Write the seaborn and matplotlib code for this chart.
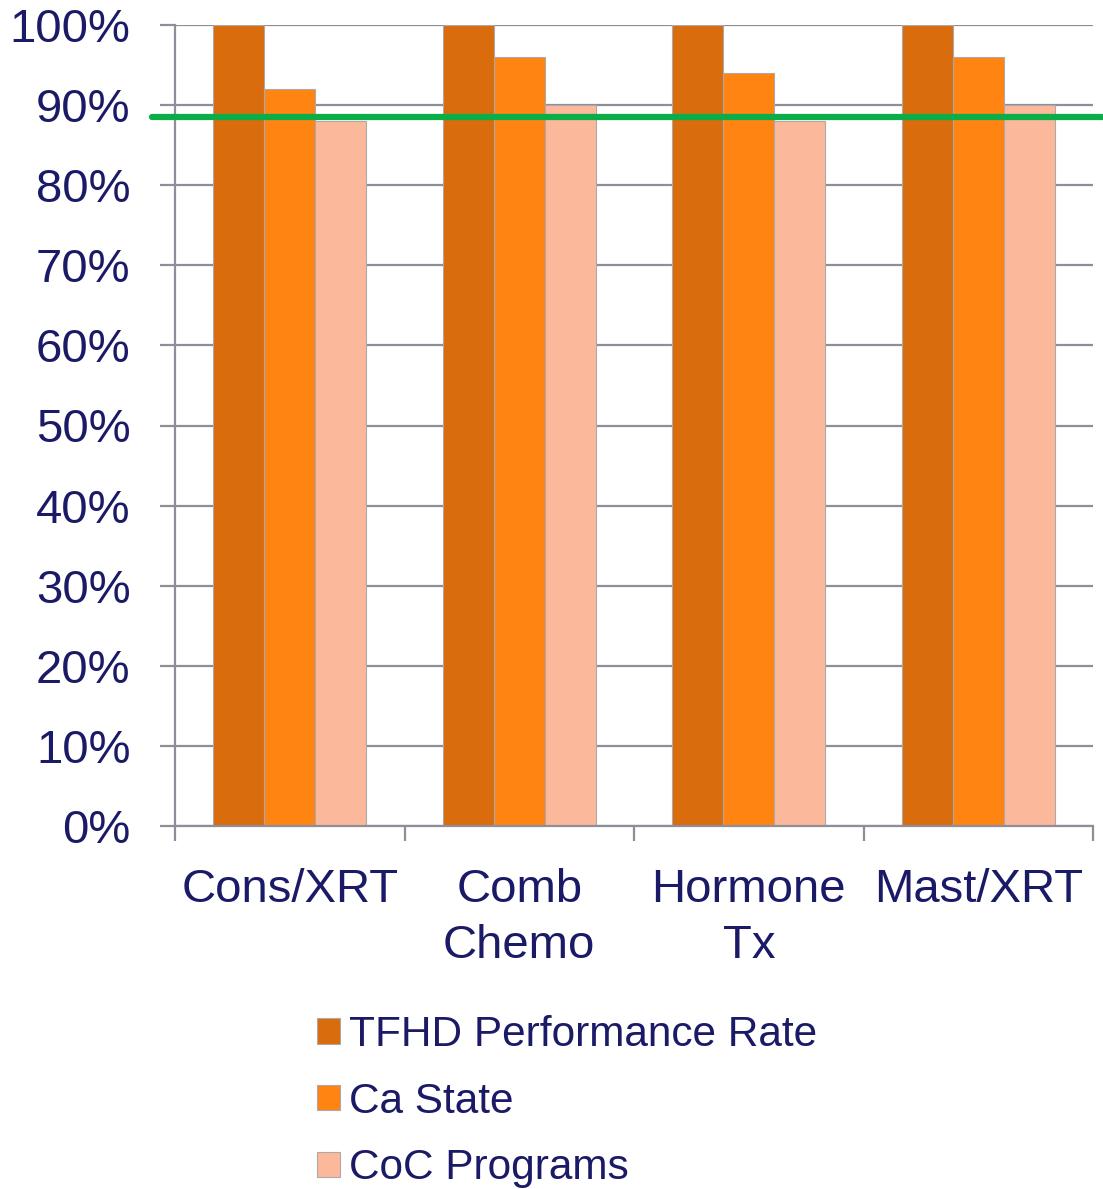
import matplotlib
matplotlib.use("Agg")
import matplotlib.pyplot as plt
import matplotlib.patches as mpatches
from matplotlib.ticker import FixedLocator, PercentFormatter
import seaborn as sns
import pandas as pd

categories = ["Cons/XRT", "Comb\nChemo", "Hormone\nTx", "Mast/XRT"]
series_names = ["TFHD Performance Rate", "Ca State", "CoC Programs"]
tfhd = [100, 100, 100, 100]
ca_state = [92, 96, 94, 96]
coc = [88, 90, 88, 90]
target = 88.5
colors = ["#D96C0C", "#FF8412", "#FBB89A"]
text_color = "#1B1A66"
grid_color = "#8E8E9A"

sns.set_style("white")
plt.rcParams["font.family"] = ["Liberation Sans", "DejaVu Sans"]

rows = []
for name, vals in zip(series_names, [tfhd, ca_state, coc]):
    for c, v in zip(categories, vals):
        rows.append({"Category": c, "Series": name, "Value": v})
df = pd.DataFrame(rows)

fig = plt.figure(figsize=(11.03, 11.89), dpi=100)
ax = fig.add_axes([175 / 1103, 1 - 826 / 1189, (1093 - 175) / 1103, (826 - 25) / 1189])

sns.barplot(data=df, x="Category", y="Value", hue="Series", order=categories,
            hue_order=series_names, palette=colors, width=0.667, ax=ax,
            edgecolor="#B0A8A8", linewidth=0.8, legend=False, saturation=1)

ax.set_ylim(0, 100)
ax.set_xlim(-0.5, 3.5)
ax.yaxis.set_major_locator(FixedLocator(list(range(0, 101, 10))))
ax.yaxis.set_major_formatter(PercentFormatter(decimals=0))
ax.set_axisbelow(True)
ax.grid(axis="y", color=grid_color, linewidth=1.6)
for s in ["top", "right"]:
    ax.spines[s].set_visible(False)
for s in ["left", "bottom"]:
    ax.spines[s].set_color(grid_color)
    ax.spines[s].set_linewidth(1.6)

ax.set_xlabel("")
ax.set_ylabel("")
ax.tick_params(axis="y", length=11, width=1.6, color=grid_color, pad=21,
               labelsize=34, labelcolor=text_color, left=True)
ax.set_xticks(range(len(categories)))
ax.set_xticklabels(categories, linespacing=1.35)
ax.tick_params(axis="x", which="major", length=0, pad=30, labelsize=34,
               labelcolor=text_color)
ax.set_xticks([i - 0.5 for i in range(len(categories) + 1)], minor=True)
ax.tick_params(axis="x", which="minor", length=11, width=1.6, color=grid_color,
               bottom=True)

ax.axhline(target, xmin=-0.025, xmax=1.01, color="#0AAD48", linewidth=4.5,
           clip_on=False, zorder=5)

handles = [mpatches.Patch(facecolor=c, edgecolor="#B0A8A8", linewidth=0.8, label=n)
           for c, n in zip(colors, series_names)]
fig.legend(handles=handles, loc="upper left", bbox_to_anchor=(300 / 1103, 1 - 998 / 1189),
           frameon=False, fontsize=30.5, labelcolor=text_color,
           handlelength=0.55, handleheight=0.55, handletextpad=0.2,
           labelspacing=0.63, borderaxespad=0)

fig.savefig("out.png", dpi=100)
